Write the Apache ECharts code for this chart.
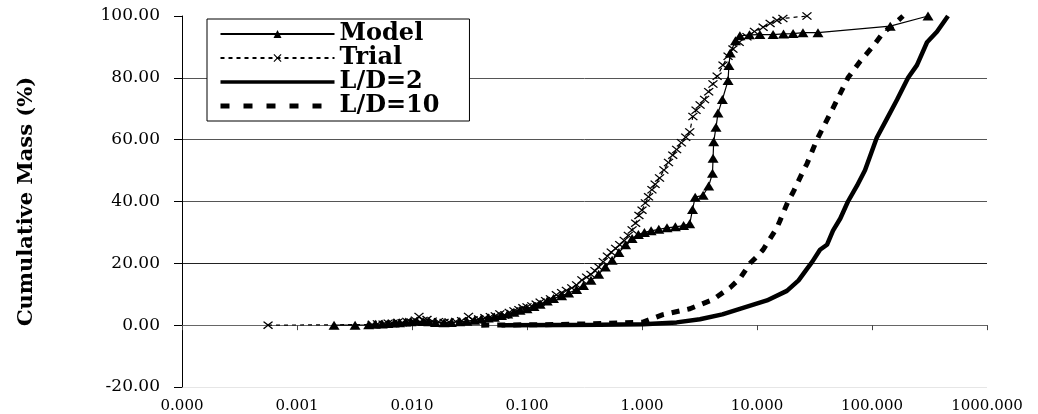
<!DOCTYPE html>
<html>
<head>
<meta charset="utf-8">
<script src="https://cdn.jsdelivr.net/npm/echarts@6/dist/echarts.min.js"></script>
<style>
html, body { margin: 0; padding: 0; background: #fff; }
#main { width: 1038px; height: 414px; }
</style>
</head>
<body>
<div id="main"></div>
<script>
// values: [size, cumulative %]
var seriesNames = ['Model', 'Trial', 'L/D=2', 'L/D=10'];

var modelData = [
  [0.0021, 0], [0.0032, 0], [0.0042, 0.1], [0.0048, 0.3], [0.0055, 0.4], [0.0062, 0.5],
  [0.007, 0.7], [0.0078, 0.8], [0.0088, 1.0], [0.0098, 1.1], [0.011, 1.3], [0.0125, 1.2],
  [0.014, 1.1], [0.016, 0.9], [0.019, 0.8], [0.022, 0.9], [0.026, 1.1], [0.03, 1.3],
  [0.035, 1.6], [0.04, 2.0], [0.046, 2.3], [0.052, 2.6], [0.06, 3.1], [0.068, 3.6],
  [0.077, 4.2], [0.087, 4.8], [0.1, 5.3], [0.115, 6.0], [0.13, 6.8], [0.15, 7.8],
  [0.17, 8.6], [0.2, 9.5], [0.23, 10.4], [0.27, 11.5], [0.31, 12.8], [0.36, 14.5],
  [0.42, 16.5], [0.48, 18.8], [0.55, 21], [0.63, 23.5], [0.72, 26], [0.82, 28],
  [0.93, 29.3], [1.05, 30], [1.2, 30.5], [1.4, 31], [1.65, 31.5], [1.95, 31.8],
  [2.3, 32.2], [2.6, 32.8], [2.75, 37.4], [2.9, 41.4], [3.4, 42], [3.8, 45],
  [4.1, 49.1], [4.15, 54], [4.2, 59.3], [4.4, 64], [4.58, 68.6], [5.0, 73],
  [5.6, 79.1], [5.7, 84], [5.85, 88], [6.5, 92], [7.1, 93.6], [8.6, 93.9],
  [10.6, 94], [13.8, 94], [17, 94.2], [20.6, 94.3], [25.1, 94.6], [33.9, 94.6],
  [144, 96.7], [307, 100]
];

var trialData = [
  [0.00056, 0], [0.0045, 0.2], [0.005, 0.4], [0.0056, 0.3], [0.0062, 0.6], [0.0068, 0.5],
  [0.0075, 0.9], [0.0082, 0.8], [0.009, 1.2], [0.0098, 1.0], [0.0107, 1.6], [0.0115, 2.8],
  [0.0125, 1.5], [0.0135, 1.8], [0.015, 1.3], [0.017, 1.1], [0.019, 0.9], [0.021, 1.0],
  [0.024, 1.2], [0.027, 1.4], [0.031, 2.8], [0.034, 1.7], [0.038, 2.0], [0.043, 2.4],
  [0.048, 2.7], [0.053, 3.0], [0.058, 3.6], [0.064, 3.3], [0.07, 4.1], [0.077, 4.6],
  [0.085, 5.0], [0.092, 5.6], [0.1, 5.9], [0.11, 6.2], [0.12, 6.8], [0.13, 7.4],
  [0.145, 7.9], [0.16, 8.5], [0.18, 9.8], [0.2, 10.5], [0.22, 11.2], [0.245, 12.0],
  [0.27, 13.0], [0.3, 14.6], [0.33, 15.5], [0.36, 16.4], [0.39, 17.6], [0.42, 18.8],
  [0.46, 20.5], [0.5, 22.3], [0.54, 23.6], [0.59, 24.8], [0.64, 26.0], [0.7, 27.4],
  [0.76, 29.0], [0.82, 30.8], [0.88, 33.0], [0.94, 35.5], [1.0, 37.2], [1.07, 39.5],
  [1.14, 41.5], [1.22, 43.8], [1.3, 45.6], [1.42, 47.6], [1.55, 50.2], [1.7, 52.6],
  [1.85, 55.0], [2.0, 56.8], [2.2, 59.0], [2.4, 60.8], [2.6, 62.5], [2.77, 67.5],
  [2.95, 69.5], [3.2, 71.2], [3.5, 73.0], [3.8, 75.5], [4.14, 78.0], [4.5, 80.5],
  [5.06, 84.1], [5.6, 87.0], [6.18, 89.3], [7.0, 91.5], [8.18, 93.3], [9.5, 95.0],
  [11.3, 96.4], [13.0, 97.6], [14.9, 98.6], [16.8, 99.2], [27.2, 100]
];

var ld2Data = [
  [0.06, 0], [0.2, 0.05], [0.43, 0.1], [1.02, 0.3], [2.0, 0.9], [3.19, 1.9],
  [5.0, 3.5], [7.1, 5.3], [12.2, 8.0], [18.2, 11.1], [23, 14.5], [27.2, 18.2],
  [30.1, 20.4], [35.3, 24.4], [40.6, 26.0], [45.8, 30.6], [53, 34.5], [61.8, 40],
  [74.1, 45.1], [86.9, 50.1], [110, 60.6], [135, 66.8], [165, 72.9], [206, 80.0],
  [246, 84.1], [301, 91.5], [367, 94.9], [458, 100]
];

var ld10Data = [
  [0.04, 0], [0.19, 0.2], [0.5, 0.6], [1.02, 1.0], [1.52, 3.4], [2.61, 5.3],
  [4.14, 8.3], [5.82, 12.1], [7.11, 15.1], [8.7, 20], [10.0, 22.2], [11.3, 24.4],
  [14.9, 31.5], [15.8, 33.7], [18.6, 40], [20.6, 43], [25.1, 49.7], [27.2, 52.2],
  [33.2, 60], [45.8, 70.2], [61.8, 80], [78.7, 85.3], [102, 90.2], [125, 94.6],
  [152, 97], [186, 100]
];

var xMin = 0.0001, xMax = 1000;
var yMin = -20, yMax = 100, yStep = 20;

var crossMark = 'path://M0,1L1,0L5,4L9,0L10,1L6,5L10,9L9,10L5,6L1,10L0,9L4,5Z';
var serif = 'DejaVu Serif';

var dom = document.getElementById('main');
var myChart = echarts.init(dom);

var option = {
  backgroundColor: '#fff',
  animation: false,
  color: ['#000', '#000', '#000', '#000'],
  grid: { left: 182, right: 51, top: 16, bottom: 10 },
  legend: {
    orient: 'vertical',
    left: 207,
    top: 19,
    data: [
      { name: seriesNames[0] },
      { name: seriesNames[1] },
      { name: seriesNames[2], itemStyle: { opacity: 0 }, lineStyle: { width: 3.5 } },
      { name: seriesNames[3], itemStyle: { opacity: 0 }, lineStyle: { width: 5, type: [9, 14] } }
    ],
    selectedMode: false,
    itemWidth: 114,
    itemHeight: 10,
    itemGap: 0,
    padding: [3, 30, 3, 11],
    backgroundColor: '#fff',
    borderColor: '#000',
    borderWidth: 1,
    textStyle: { fontFamily: serif, fontWeight: 'bold', fontSize: 24, color: '#000', lineHeight: 23 }
  },
  xAxis: {
    type: 'log',
    logBase: 10,
    min: xMin,
    max: xMax,
    axisLine: { onZero: true, lineStyle: { color: '#666', width: 1 } },
    axisTick: { show: true, length: 5, lineStyle: { color: '#444' } },
    splitLine: { show: false },
    axisLabel: {
      formatter: function (v) { return v.toFixed(3); },
      fontFamily: serif, fontSize: 15, color: '#000', margin: 12
    }
  },
  yAxis: {
    type: 'value',
    min: yMin,
    max: yMax,
    interval: yStep,
    name: 'Cumulative Mass (%)',
    nameLocation: 'middle',
    nameRotate: 90,
    nameGap: 145,
    nameTextStyle: { fontFamily: serif, fontWeight: 'bold', fontSize: 21, color: '#000' },
    axisLine: { show: true, lineStyle: { color: '#000' } },
    axisTick: { show: true, length: 8, lineStyle: { color: '#000' } },
    axisLabel: {
      formatter: function (v) { return v.toFixed(2); },
      fontFamily: serif, fontSize: 17, color: '#000', margin: 22
    },
    splitLine: {
      show: true,
      lineStyle: { color: ['#e6e6e6', '#000', '#222', '#555', '#555', '#555', 'rgba(0,0,0,0)'], width: 1 }
    }
  },
  series: [
    { name: 'Model', type: 'line', data: modelData, symbol: 'triangle', symbolSize: [11, 9],
      showAllSymbol: true, z: 4,
      itemStyle: { color: '#000' }, lineStyle: { color: '#000', width: 1.2 } },
    { name: 'Trial', type: 'line', data: trialData, symbol: crossMark, symbolSize: [10, 8],
      showAllSymbol: true, z: 3,
      itemStyle: { color: '#000' }, lineStyle: { color: '#000', width: 1.2, type: [4, 4] } },
    { name: 'L/D=2', type: 'line', data: ld2Data, symbol: 'none',
      itemStyle: { color: '#000' }, lineStyle: { color: '#000', width: 4.5 } },
    { name: 'L/D=10', type: 'line', data: ld10Data, symbol: 'none',
      itemStyle: { color: '#000' }, lineStyle: { color: '#000', width: 5, type: [8, 8] } }
  ]
};

if (option && typeof option === 'object') {
  myChart.setOption(option);
}

window.onresize = function () {
  myChart.resize();
};
</script>
</body>
</html>
